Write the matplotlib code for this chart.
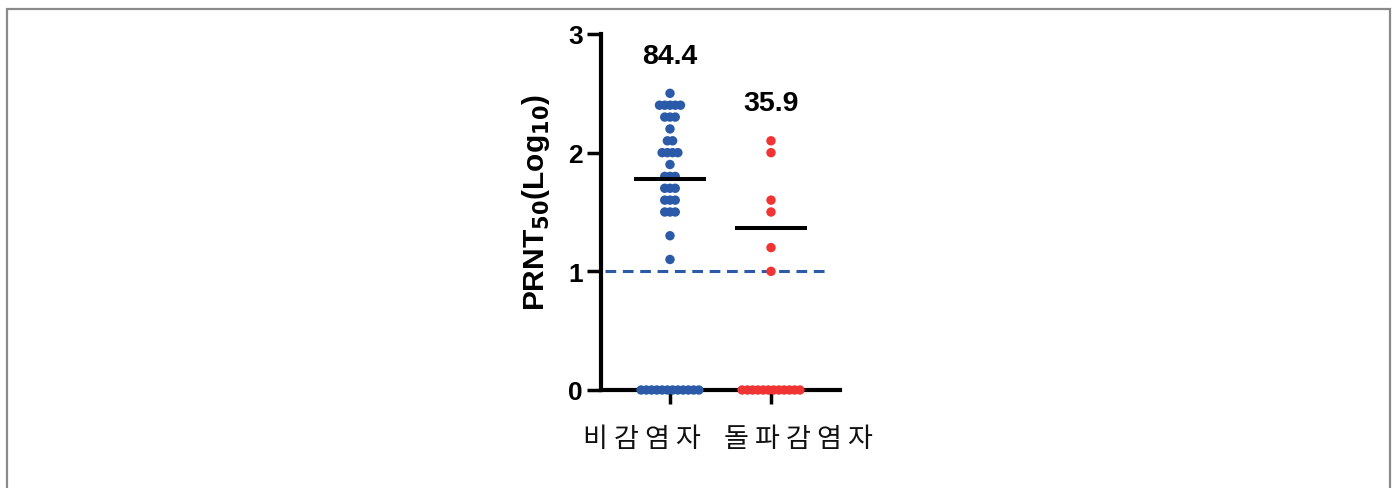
import matplotlib
matplotlib.use("Agg")
import matplotlib.pyplot as plt
from matplotlib.patches import Rectangle
from matplotlib.transforms import blended_transform_factory

plt.rcParams['font.family'] = ['Liberation Sans', 'DejaVu Sans']
plt.rcParams['lines.scale_dashes'] = False

# PRNT50 titres (log10) per group
groups = ["비 감 염 자", "돌 파 감 염 자"]
uninfected = [2.5,
              2.4, 2.4, 2.4, 2.4, 2.4,
              2.3, 2.3, 2.3,
              2.2,
              2.1, 2.1,
              2.0, 2.0, 2.0, 2.0,
              1.9,
              1.8, 1.8, 1.8,
              1.7, 1.7, 1.7,
              1.6, 1.6, 1.6,
              1.5, 1.5, 1.5,
              1.3,
              1.1,
              0, 0, 0, 0, 0, 0, 0, 0, 0, 0, 0, 0]
breakthrough = [2.1, 2.0, 1.6, 1.5, 1.2, 1.0,
                0, 0, 0, 0, 0, 0, 0, 0, 0, 0, 0, 0]
medians = [1.78, 1.365]
gmt_labels = ["84.4", "35.9"]
cutoff = 1.0

colors = ["#2b5aa8", "#f03434"]
spacing = 0.052


def swarm(values, center):
    """Spread equal values side by side around the group centre."""
    xs, ys = [], []
    for v in sorted(set(values), reverse=True):
        n = values.count(v)
        for i in range(n):
            xs.append(center + (i - (n - 1) / 2) * spacing)
            ys.append(v)
    return xs, ys


fig = plt.figure(figsize=(13.97, 4.89), dpi=100)
fig.patches.append(Rectangle((6.5 / 1397, -0.05), (1390 - 6.5) / 1397, 1.05 - 9.5 / 489,
                             transform=fig.transFigure, fill=False,
                             edgecolor="#8a8a8a", linewidth=1.6))

ax = fig.add_axes([601 / 1397, 98 / 489, 239 / 1397, 356 / 489])
ax.set_xlim(-0.683, 1.683)
ax.set_ylim(0, 3)

for k, vals in enumerate([uninfected, breakthrough]):
    xs, ys = swarm(vals, k)
    ax.scatter(xs, ys, s=46, color=colors[k], edgecolors="none",
               clip_on=False, zorder=3)
    ax.hlines(medians[k], k - 0.355, k + 0.355, color="black",
              linewidth=2.9, zorder=4)
    ax.text(k, [2.816, 2.418][k], gmt_labels[k], ha="center", va="center",
            fontsize=20.5, fontweight="bold")

ax.plot([-0.645, 1.565], [cutoff, cutoff], color=colors[0], linewidth=2.2,
        dashes=(7.7, 4.8), zorder=2)

for side in ("top", "right"):
    ax.spines[side].set_visible(False)
for side in ("left", "bottom"):
    ax.spines[side].set_linewidth(3.0)

ax.set_yticks([0, 1, 2, 3])
ax.set_yticklabels(["0", "1", "2", "3"], fontsize=19, fontweight="bold")
ax.set_xticks([0, 1])
ax.set_xticklabels(["", ""])
ax.tick_params(axis="both", length=10, width=2.5, direction="out")
ax.tick_params(axis="y", pad=3)

ax.set_ylabel(r"PRNT$_{\mathbf{50}}$(Log$_{\mathbf{10}}$)", fontsize=21.5,
              fontweight="bold")
ax.yaxis.set_label_coords(-0.205, 0.53)

trans = blended_transform_factory(ax.transData, ax.transAxes)
for xpos, name in zip([-0.277, 1.272], groups):
    ax.text(xpos, -0.135, name, transform=trans, ha="center", va="center",
            fontsize=19.5, family=["Noto Sans CJK KR", "DejaVu Sans"],
            color="#111111")

fig.savefig("out.png", dpi=100)
